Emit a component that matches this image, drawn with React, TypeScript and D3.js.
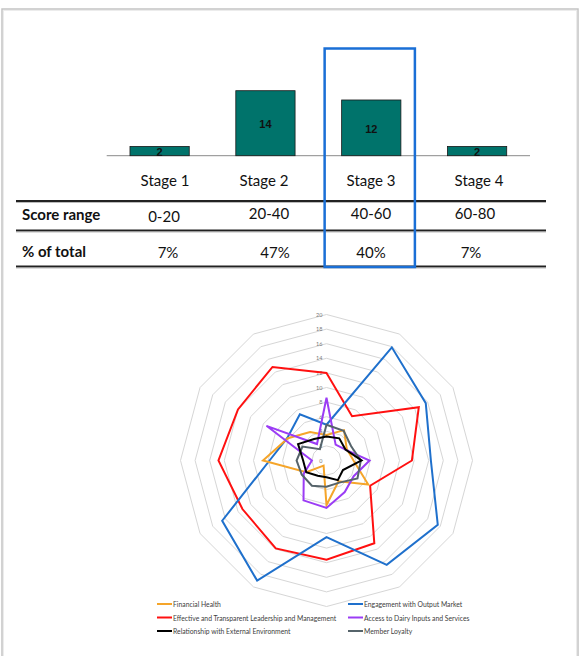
import React from "react";
import * as d3 from "d3";

// ---------- Bar / table data ----------
const stages = ["Stage 1", "Stage 2", "Stage 3", "Stage 4"];
const stageCounts = [2, 14, 12, 2];
const scoreRanges = ["0-20", "20-40", "40-60", "60-80"];
const pctOfTotal = ["7%", "47%", "40%", "7%"];
const highlightStage = "Stage 3";

// ---------- Radar data ----------
const radarAxes = d3.range(12).map((i) => `A${i + 1}`);
const radarTicks = [0, 2, 4, 6, 8, 10, 12, 14, 16, 18, 20];
const seriesNames = [
  "Financial Health",
  "Engagement with Output Market",
  "Effective and Transparent Leadership and Management",
  "Access to Dairy Inputs and Services",
  "Relationship with External Environment",
  "Member Loyalty",
];
const financialHealth = [3.5, 4.8, 3.2, 3.7, 6.6, 3.3, 6.1, 0.8, 3.2, 8.7, 6.1, 4.5];
const engagementOutput = [4.9, 17.9, 15.7, 14.3, 17.6, 16.5, 10.5, 19.0, 16.5, 7.8, 6.2, 7.3];
const leadership = [12, 7.0, 14.6, 11.7, 6.9, 13.1, 13.6, 13.9, 13.3, 14.8, 14.0, 14.8];
const dairyInputs = [8.6, 2.5, 3.0, 5.9, 4.3, 5.0, 6.5, 6.3, 3.6, 2.0, 9.5, 2.6];
const externalEnv = [3.3, 3.5, 3.0, 4.8, 2.6, 3.1, 2.3, 2.4, 3.2, 3.2, 4.5, 3.4];
const memberLoyalty = [4.9, 4.7, 3.9, 4.7, 4.9, 3.5, 3.6, 4.0, 3.9, 4.1, 3.8, 1.8];
const seriesColors = ["#f5a52a", "#1f70cc", "#ff1010", "#9b3cf5", "#000000", "#56646b"];

export default function App() {
  const W = 580;
  const H = 656;

  // Bar chart scales
  const x = d3
    .scaleBand<string>()
    .domain(stages)
    .range([106.7, 530])
    .paddingInner(0.44)
    .paddingOuter(0.22);
  const y = d3.scaleLinear().domain([0, 14]).range([155.7, 90.7]);

  const colCenters: Record<string, number[]> = {
    stage: [165, 264, 371, 479],
    range: [164, 269, 371, 475],
    pct: [168, 275, 371, 471],
  };

  // Radar
  const cx = 326.5;
  const cy = 460.5;
  const r = d3.scaleLinear().domain([0, 20]).range([0, 146]);
  const ang = d3
    .scalePoint<string>()
    .domain(radarAxes)
    .range([0, (2 * Math.PI * 11) / 12]);

  const radial = d3
    .lineRadial<number>()
    .angle((_, i) => ang(radarAxes[i]) as number)
    .radius((d) => r(d))
    .curve(d3.curveLinearClosed);

  const allSeries = [
    financialHealth,
    engagementOutput,
    leadership,
    dairyInputs,
    externalEnv,
    memberLoyalty,
  ];
  // draw order (bottom to top)
  const drawOrder = [2, 1, 0, 3, 5, 4];

  const legendPos = [
    [157, 604],
    [348, 604],
    [157, 617.5],
    [348, 617.5],
    [157, 631],
    [348, 631],
  ];

  const box = x(highlightStage) as number;

  return (
    <svg
      width={W}
      height={H}
      style={{ position: "absolute", left: 0, top: 0, background: "#fff" }}
      fontFamily="Lato, 'Open Sans', sans-serif"
    >
      {/* frame */}
      <rect x={2} y={9} width={576} height={670} fill="none" stroke="#c4c4c4" strokeWidth={1.5} />
      <rect x={3.5} y={10.5} width={573} height={667} fill="none" stroke="#ececec" strokeWidth={1} />

      {/* bars */}
      <line x1={106.7} x2={530} y1={y(0)} y2={y(0)} stroke="#8a8a8a" strokeWidth={1} />
      {stages.map((s, i) => (
        <g key={s}>
          <rect
            x={x(s)}
            y={y(stageCounts[i])}
            width={x.bandwidth()}
            height={y(0) - y(stageCounts[i])}
            fill="#00736b"
            stroke="#1a1a1a"
            strokeWidth={0.8}
          />
          <text
            x={(x(s) as number) + x.bandwidth() / 2}
            y={(y(stageCounts[i]) + y(0)) / 2 + 1}
            textAnchor="middle"
            dominantBaseline="central"
            fontFamily="Arial, 'Liberation Sans', sans-serif"
            fontWeight="bold"
            fontSize={11}
            fill="#111"
          >
            {stageCounts[i]}
          </text>
        </g>
      ))}

      {/* table */}
      {stages.map((s, i) => (
        <text key={s} x={colCenters.stage[i]} y={186} textAnchor="middle" fontSize={15} fill="#111">
          {s}
        </text>
      ))}
      <line x1={16} x2={546} y1={201} y2={201} stroke="#222" strokeWidth={2} />
      <line x1={16} x2={546} y1={202.5} y2={202.5} stroke="#aaa" strokeWidth={0.8} />
      <text x={22} y={220} fontSize={15} fontWeight="bold" fill="#111">
        Score range
      </text>
      {scoreRanges.map((s, i) => (
        <text key={s} x={colCenters.range[i]} y={i === 0 ? 222 : 219} textAnchor="middle" fontSize={15} fill="#111">
          {s}
        </text>
      ))}
      <line x1={16} x2={546} y1={230.5} y2={230.5} stroke="#222" strokeWidth={2} />
      <line x1={16} x2={546} y1={232} y2={232} stroke="#aaa" strokeWidth={0.8} />
      <text x={22} y={257} fontSize={15} fontWeight="bold" fill="#111">
        % of total
      </text>
      {pctOfTotal.map((s, i) => (
        <text key={i} x={colCenters.pct[i]} y={258} textAnchor="middle" fontSize={15} fill="#111">
          {s}
        </text>
      ))}
      <line x1={16} x2={546} y1={266.5} y2={266.5} stroke="#222" strokeWidth={2} />
      <line x1={16} x2={546} y1={268} y2={268} stroke="#aaa" strokeWidth={0.8} />

      {/* highlight box */}
      <rect
        x={box - 17}
        y={48.5}
        width={x.bandwidth() + 31}
        height={218.5}
        fill="none"
        stroke="#1a6fd6"
        strokeWidth={2.5}
      />

      {/* radar */}
      <g transform={`translate(${cx},${cy})`}>
        {radarTicks.slice(1).map((t) => (
          <path
            key={t}
            d={radial(radarAxes.map(() => t)) as string}
            fill="none"
            stroke="#d6d6d6"
            strokeWidth={1}
          />
        ))}
        {radarTicks.map((t) => (
          <text
            key={t}
            x={-4}
            y={-r(t)}
            textAnchor="end"
            dominantBaseline="central"
            fontSize={5.5}
            fill="#7a7a7a"
          >
            {t}
          </text>
        ))}
        {drawOrder.map((k) => (
          <path
            key={k}
            d={radial(allSeries[k]) as string}
            fill="none"
            stroke={seriesColors[k]}
            strokeWidth={2}
            strokeLinejoin="miter"
          />
        ))}
      </g>

      {/* legend */}
      {seriesNames.map((n, i) => (
        <g key={n}>
          <line
            x1={legendPos[i][0]}
            x2={legendPos[i][0] + 15}
            y1={legendPos[i][1]}
            y2={legendPos[i][1]}
            stroke={seriesColors[i]}
            strokeWidth={2}
          />
          <text
            x={legendPos[i][0] + 16}
            y={legendPos[i][1]}
            dominantBaseline="central"
            fontSize={6.8}
            fill="#404040"
          >
            {n}
          </text>
        </g>
      ))}
    </svg>
  );
}
